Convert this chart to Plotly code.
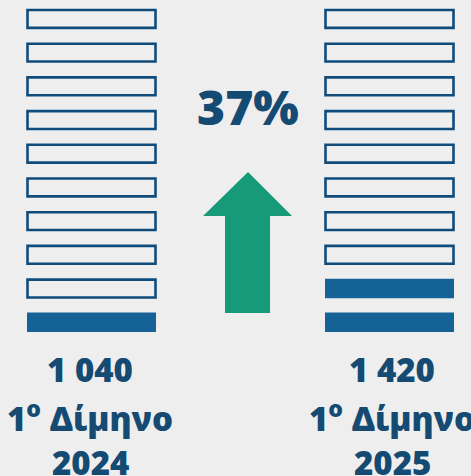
import plotly.graph_objects as go

# Data
totals = ["1 040", "1 420"]
period_label = "1<sup>o</sup> Δίμηνο"
years = ["2024", "2025"]
filled_units = [1, 2]
total_units = 10
change_label = "37%"

BLUE = "#156396"
OUTLINE = "#0f4c7c"
TEXT = "#154a72"
GREEN = "#179a79"
BG = "#eeeeee"

centers = [91.5, 389.5]
bar_w = 131
unit_h = 0.58

fig = go.Figure()
for k in range(2):
    idx = list(range(total_units))
    fill_idx = [i for i in idx if i < filled_units[k]]
    empty_idx = [i for i in idx if i >= filled_units[k]]
    fig.add_trace(go.Bar(
        x=[centers[k]] * len(fill_idx), y=[unit_h] * len(fill_idx), base=fill_idx,
        width=bar_w - 2, marker=dict(color=BLUE, line=dict(width=0)),
        hoverinfo="skip", showlegend=False))
    fig.add_trace(go.Bar(
        x=[centers[k]] * len(empty_idx), y=[unit_h - 0.05] * len(empty_idx),
        base=[i + 0.025 for i in empty_idx],
        width=bar_w - 3, marker=dict(color="rgba(0,0,0,0)", line=dict(color=OUTLINE, width=2.6)),
        hoverinfo="skip", showlegend=False))

# arrow (pixels x, units y)
py = lambda p: (332 - p) / 33.7
path = (f"M 225,{py(313)} L 225,{py(216)} L 203,{py(216)} L 248,{py(172)} "
        f"L 292,{py(216)} L 270,{py(216)} L 270,{py(313)} Z")
fig.add_shape(type="path", path=path, fillcolor=GREEN, line=dict(width=0), layer="above")

fig.add_annotation(x=248, y=py(106), text=change_label, showarrow=False,
                   font=dict(family="Open Sans", size=48, color=TEXT, weight=800))

line_y = [py(369.5), py(416), py(462)]
xs = [90, 392]
for k in range(2):
    lines = [totals[k], period_label, years[k]]
    for j, t in enumerate(lines):
        fig.add_annotation(x=xs[k], y=line_y[j], text=t, showarrow=False,
                           font=dict(family="Open Sans", size=33, color=TEXT, weight=800))

fig.update_layout(
    width=471, height=476, margin=dict(l=0, r=0, t=0, b=0),
    paper_bgcolor=BG, plot_bgcolor=BG, barmode="overlay",
    xaxis=dict(range=[0, 471], visible=False, fixedrange=True),
    yaxis=dict(range=[py(476), py(0)], visible=False, fixedrange=True),
)
fig.write_html("out.html")
